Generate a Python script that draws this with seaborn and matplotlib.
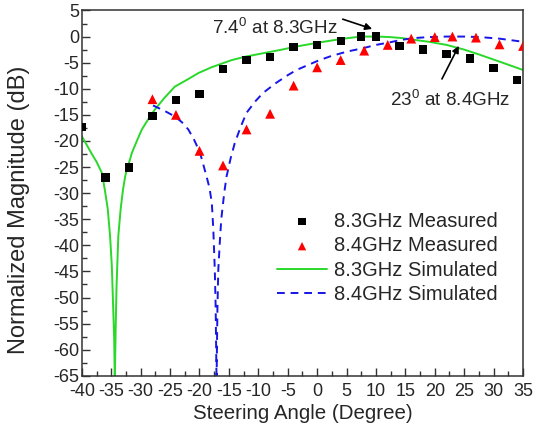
import numpy as np
import pandas as pd
import seaborn as sns
import matplotlib.pyplot as plt
from matplotlib.ticker import MultipleLocator

# ================= DATA =================
meas83_angle = [-40, -36, -32, -28, -24, -20, -16, -12, -8, -4, 0, 4, 7.4, 10, 14, 18, 22, 26, 30, 34]
meas83_db = [-17.3, -27.0, -25.1, -15.2, -12.1, -11.0, -6.2, -4.5, -3.9, -2.0, -1.6, -0.8, 0.0, 0.0,
             -1.8, -2.5, -3.3, -4.2, -6.0, -8.3]

meas84_angle = [-28, -24, -20, -16, -12, -8, -4, 0, 4, 8, 12, 16, 20, 23, 27, 31, 35]
meas84_db = [-12.0, -15.0, -21.9, -24.7, -17.8, -14.8, -9.4, -5.9, -4.5, -2.7, -1.6, -0.4, -0.1, 0.0,
             -0.2, -1.5, -1.8]

sim83_angle = [-40, -38.4, -37.5, -36.6, -36.1, -35.6, -35.2, -34.9, -34.7, -34.5, -34.4, -34.25,
               -34.1, -33.8, -33.4, -33.0, -32.6, -31.5, -30.5, -29.8, -28.8, -27.6, -26, -24.2,
               -22, -20.2, -18, -14.5, -12, -9.2, -6, -3.5, 0, 2.2, 4.5, 7.4, 10, 12.4, 14.5,
               16.3, 19, 22, 25, 27.7, 31, 35]
sim83_db = [-19.1, -22.3, -24.0, -26.1, -29.3, -33.0, -38.2, -44.0, -51.0, -58.0, -66.0, -56.0,
            -47.8, -38.2, -33.0, -29.3, -26.6, -22.3, -19.6, -17.8, -16.0, -14.0, -11.8, -9.6,
            -8.2, -7.0, -5.9, -4.5, -3.8, -3.2, -2.5, -1.9, -1.2, -0.8, -0.4, 0.0, 0.0, -0.1, -0.3,
            -0.6, -1.0, -1.6, -2.5, -3.5, -4.8, -6.4]

sim84_angle = [-27.9, -26, -24.2, -23, -21.9, -20.9, -19.9, -18.8, -18.3, -17.9, -17.65, -17.4,
               -17.25, -17.1, -16.95, -16.8, -16.55, -16.3, -15.8, -15.4, -14.7, -14.0, -13, -12.0,
               -10.5, -9.2, -7, -5, -3.5, 0, 2.2, 5, 7.9, 10, 12.4, 14, 16.3, 19, 22, 25, 27.7, 31, 35]
sim84_db = [-13.2, -14.2, -15.3, -16.4, -17.8, -19.8, -22.3, -26.8, -29.0, -31.9, -37.0, -44.6,
            -52.0, -66.0, -52.0, -44.6, -39.5, -35.0, -30.0, -26.8, -23.3, -20.4, -17.3, -14.6,
            -12.4, -10.8, -8.9, -7.4, -6.4, -4.7, -3.8, -2.9, -2.2, -1.6, -1.1, -0.7, -0.3, -0.1,
            0.0, 0.0, -0.1, -0.4, -1.0]

x_ticks = list(range(-40, 36, 5))
y_ticks = list(range(-65, 6, 5))

# ================= STYLE =================
sns.set_style("white")
plt.rcParams['font.family'] = ['Liberation Sans', 'DejaVu Sans']
plt.rcParams['mathtext.fontset'] = 'custom'
plt.rcParams['mathtext.rm'] = 'Liberation Sans'
plt.rcParams['axes.unicode_minus'] = False

fig = plt.figure(figsize=(5.42, 4.36), dpi=100)
ax = fig.add_axes([0.151, 0.138, 0.814, 0.838])

df83 = pd.DataFrame({"angle": meas83_angle, "db": meas83_db})
df84 = pd.DataFrame({"angle": meas84_angle, "db": meas84_db})
ds83 = pd.DataFrame({"angle": sim83_angle, "db": sim83_db})
ds84 = pd.DataFrame({"angle": sim84_angle, "db": sim84_db})

sns.lineplot(data=ds83, x="angle", y="db", sort=False, estimator=None, ax=ax,
             color="#2ad82a", linewidth=1.4, label="8.3GHz Simulated", zorder=2)
sns.lineplot(data=ds84, x="angle", y="db", sort=False, estimator=None, ax=ax,
             color="#1616e6", linewidth=1.4, label="8.4GHz Simulated", zorder=2)
ax.lines[-1].set_dashes((4, 3))
sns.scatterplot(data=df83, x="angle", y="db", ax=ax, marker="s", s=36, color="black",
                edgecolor="none", label="8.3GHz Measured", zorder=3)
sns.scatterplot(data=df84, x="angle", y="db", ax=ax, marker="^", s=50, color="#ff0000",
                edgecolor="none", label="8.4GHz Measured", zorder=3)

ax.set_xlim(-40, 35)
ax.set_ylim(-65, 5)
ax.set_xticks(x_ticks)
ax.set_yticks(y_ticks)
ax.xaxis.set_minor_locator(MultipleLocator(2.5))
ax.yaxis.set_minor_locator(MultipleLocator(2.5))
ax.tick_params(which="both", bottom=True, left=True, top=False, right=False, direction="in",
               color="#333333")
ax.tick_params(which="major", length=6, width=1, labelsize=13)
ax.tick_params(axis="x", which="major", pad=5)
ax.tick_params(axis="y", which="major", pad=2)
ax.tick_params(which="minor", length=3.5, width=1)
for s in ax.spines.values():
    s.set_color("#333333")
    s.set_linewidth(1.1)

ax.set_xlabel("Steering Angle (Degree)", fontsize=14.8, labelpad=3)
ax.set_ylabel("Normalized Magnitude (dB)", fontsize=17)
ax.yaxis.set_label_coords(-0.118, 0.454)

# annotations
ax.annotate("", xy=(9.8, 1.3), xytext=(3.9, 3.5),
            arrowprops=dict(arrowstyle="-|>", color="black", lw=1.2, mutation_scale=10))
ax.text(-17.9, 1.8, "7.4$^0$ at 8.3GHz", fontsize=13.6, va="center", ha="left")
ax.annotate("", xy=(24.3, -1.3), xytext=(21.0, -8.6),
            arrowprops=dict(arrowstyle="-|>", color="black", lw=1.2, mutation_scale=10))
ax.text(12.4, -12.0, "23$^0$ at 8.4GHz", fontsize=13.6, va="center", ha="left")

# legend in the measured-then-simulated order
h, l = ax.get_legend_handles_labels()
order = [l.index(n) for n in ["8.3GHz Measured", "8.4GHz Measured", "8.3GHz Simulated", "8.4GHz Simulated"]]
ax.legend([h[i] for i in order], [l[i] for i in order], loc="center left",
          bbox_to_anchor=(0.442, 0.322), frameon=False, fontsize=14.5,
          borderaxespad=0, borderpad=0, handlelength=2.5, handletextpad=0.35,
          labelspacing=0.27, markerscale=0.85)

fig.savefig("out.png", dpi=100)
